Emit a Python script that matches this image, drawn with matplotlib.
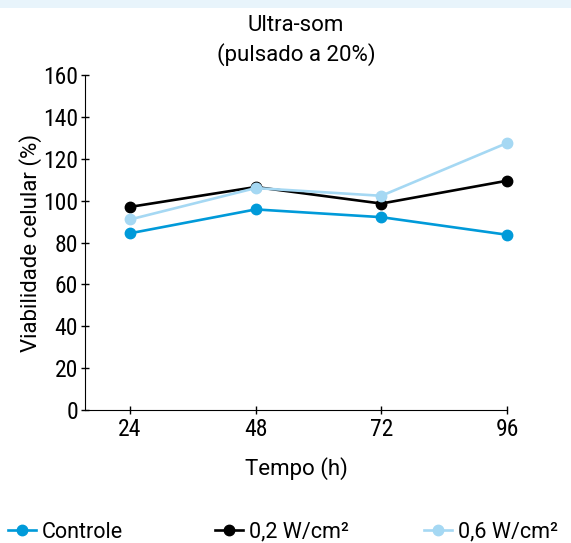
import matplotlib.pyplot as plt
import matplotlib.patches as patches

# data
tempo = [24, 48, 72, 96]
controle = [84.4, 95.8, 92.1, 83.7]
w02 = [97.0, 106.5, 98.6, 109.5]
w06 = [91.0, 106.0, 102.3, 127.5]
yticks = [0, 20, 40, 60, 80, 100, 120, 140, 160]

plt.rcParams['font.family'] = ['Roboto', 'DejaVu Sans']
plt.rcParams['font.size'] = 16
condensed = ['Roboto Condensed', 'Roboto', 'DejaVu Sans']

fig = plt.figure(figsize=(5.71, 5.43), dpi=100)
# light band at the top
fig.patches.append(patches.Rectangle((0, 1 - 8 / 543), 1, 8 / 543, transform=fig.transFigure,
                                     facecolor='#e8f4fb', edgecolor='none', zorder=0))

ax = fig.add_axes([85 / 571, 1 - 410 / 543, (507 - 85) / 571, (410 - 75) / 543])

l1, = ax.plot(tempo, controle, '-o', color='#009ad9', lw=1.9, ms=7.5, label='Controle', clip_on=False)
l2, = ax.plot(tempo, w02, '-o', color='black', lw=1.9, ms=7.5, label='0,2 W/cm²', clip_on=False)
l3, = ax.plot(tempo, w06, '-o', color='#a5d8f3', lw=1.9, ms=7.5, label='0,6 W/cm²', clip_on=False)

ax.set_xlim(15.4, 96)
ax.set_ylim(0, 160)
ax.set_xticks(tempo)
ax.set_yticks(yticks)
ax.spines['top'].set_visible(False)
ax.spines['right'].set_visible(False)
ax.tick_params(direction='inout', length=6, width=1, labelsize=17)
ax.tick_params(axis='x', pad=3)
ax.tick_params(axis='y', pad=2)
for lab in ax.get_xticklabels() + ax.get_yticklabels():
    lab.set_family(condensed)

ax.set_xlabel('Tempo (h)', fontsize=16, labelpad=11)
ax.set_ylabel('Viabilidade celular (%)', fontsize=16, labelpad=1)
ax.set_title('Ultra-som\n(pulsado a 20%)', fontsize=16, pad=10, linespacing=1.4)

# one legend per entry, spread across the bottom like the reference
for line, xpos in zip([l1, l2, l3], [8, 215, 424]):
    fig.legend(handles=[line], loc='center left', bbox_to_anchor=(xpos / 571, 11 / 543),
               frameon=False, fontsize=15.5, handlelength=1.3, handletextpad=0.27,
               borderpad=0, borderaxespad=0)

fig.savefig('out.png', dpi=100)
